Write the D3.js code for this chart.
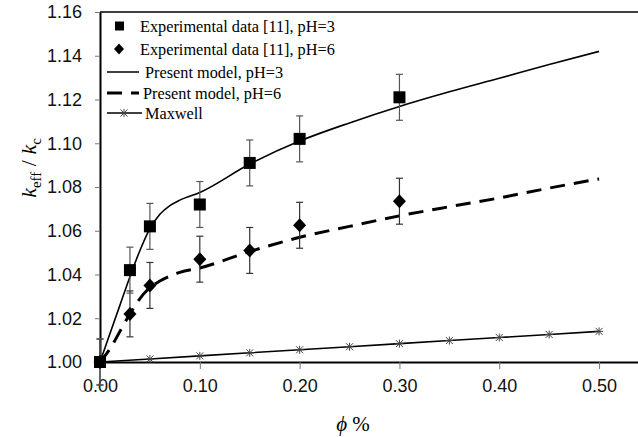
<!DOCTYPE html>
<html>
<head>
  <meta charset="utf-8">
  <style>
body { margin: 0; background: #fff; }
svg { display: block; }
.tick text { font: 18px "Liberation Sans", Arial, sans-serif; fill: #111; }
.legend text { font: 16.3px "Liberation Serif", "Times New Roman", serif; fill: #000; }
  </style>
</head>
<body>
  <svg id="chart" width="638" height="437"></svg>
  <script src="https://cdn.jsdelivr.net/npm/d3@7"></script>
  <script>
// Experimental data [11]
var expX = [0, 0.03, 0.05, 0.10, 0.15, 0.20, 0.30];
var exp3 = [1.000, 1.042, 1.062, 1.072, 1.091, 1.102, 1.121];
var exp6 = [1.000, 1.022, 1.035, 1.047, 1.051, 1.0625, 1.0735];
var errBar = 0.0105;

// Present model curves
var modelX = [0, 0.01, 0.02, 0.03, 0.04, 0.05, 0.06, 0.07, 0.08, 0.10, 0.15, 0.20, 0.25, 0.30, 0.35, 0.40, 0.45, 0.50];
var model3 = [1.000, 1.013, 1.026, 1.039, 1.051, 1.061, 1.0675, 1.0715, 1.074, 1.0775, 1.0905, 1.101, 1.1093, 1.1168, 1.1235, 1.1297, 1.136, 1.142];
var model6 = [1.000, 1.006, 1.014, 1.022, 1.029, 1.034, 1.037, 1.0393, 1.041, 1.043, 1.0505, 1.057, 1.062, 1.0668, 1.071, 1.075, 1.0795, 1.0837];

// Maxwell
var maxX = [0, 0.05, 0.10, 0.15, 0.20, 0.25, 0.30, 0.35, 0.40, 0.45, 0.50];
var maxY = [1.000, 1.0014, 1.0028, 1.0042, 1.0056, 1.0070, 1.0084, 1.0098, 1.0112, 1.0126, 1.0140];

var xTicks = [0, 0.10, 0.20, 0.30, 0.40, 0.50];
var yTicks = [1.00, 1.02, 1.04, 1.06, 1.08, 1.10, 1.12, 1.14, 1.16];

var svg = d3.select("#chart"),
    margin = {left: 100, right: 0, top: 12, bottom: 75},
    width = +svg.attr("width") - margin.left - margin.right,
    height = +svg.attr("height") - margin.top - margin.bottom;

var x = d3.scaleLinear().domain([0, 0.539]).range([0, width]);
var y = d3.scaleLinear().domain([1.00, 1.16]).range([height, 0]);

var g = svg.append("g").attr("transform", "translate(" + margin.left + "," + margin.top + ")");

// Axes
var xAxis = g.append("g")
    .attr("transform", "translate(0," + height + ")")
    .call(d3.axisBottom(x).tickValues(xTicks).tickFormat(d3.format(".2f")).tickSize(7).tickPadding(10).tickSizeOuter(0));
xAxis.select(".domain").attr("stroke", "#000").attr("stroke-width", 2);
xAxis.selectAll(".tick line").attr("stroke", "#777");

var yAxis = g.append("g")
    .call(d3.axisLeft(y).tickValues(yTicks).tickFormat(d3.format(".2f")).tickSize(5).tickPadding(13).tickSizeOuter(0));
yAxis.select(".domain").attr("stroke", "#000").attr("stroke-width", 2);
yAxis.selectAll(".tick line").attr("stroke", "#777");

// top border
g.append("line")
    .attr("x1", 0).attr("x2", width)
    .attr("y1", 0).attr("y2", 0)
    .attr("stroke", "#000").attr("stroke-width", 1.5);

// Axis titles
svg.append("text")
    .attr("x", 353).attr("y", 431)
    .attr("text-anchor", "middle")
    .style("font", "21px 'Liberation Serif', serif")
    .html("<tspan font-style='italic'>&#x03D5;</tspan> %");

var yt = svg.append("text")
    .attr("transform", "translate(36,168) rotate(-90)")
    .attr("text-anchor", "middle")
    .style("font", "22px 'Liberation Serif', serif");
yt.append("tspan").attr("font-style", "italic").text("k");
yt.append("tspan").attr("font-size", "15px").attr("dy", 5).text("eff");
yt.append("tspan").attr("dy", -5).text(" / ");
yt.append("tspan").attr("font-style", "italic").text("k");
yt.append("tspan").attr("font-size", "15px").attr("dy", 5).text("c");

// Model lines
var line = d3.line()
    .x(function(d) { return x(d[0]); })
    .y(function(d) { return y(d[1]); })
    .curve(d3.curveMonotoneX);

g.append("path")
    .datum(d3.zip(modelX, model3))
    .attr("d", line)
    .attr("fill", "none").attr("stroke", "#000").attr("stroke-width", 1.6);

g.append("path")
    .datum(d3.zip(modelX, model6))
    .attr("d", line)
    .attr("fill", "none").attr("stroke", "#000").attr("stroke-width", 3)
    .attr("stroke-dasharray", "15,9");

// Maxwell
var maxData = d3.zip(maxX, maxY);
g.append("path")
    .datum(maxData)
    .attr("d", d3.line().x(function(d) { return x(d[0]); }).y(function(d) { return y(d[1]); }))
    .attr("fill", "none").attr("stroke", "#000").attr("stroke-width", 1.6);

var star = "M-3.5,-3.5L3.5,3.5M-3.5,3.5L3.5,-3.5M0,-4L0,4M-4,0L4,0";
g.selectAll(".star")
    .data(maxData.slice(1))
    .enter().append("path")
      .attr("class", "star")
      .attr("transform", function(d) { return "translate(" + x(d[0]) + "," + y(d[1]) + ")"; })
      .attr("d", star)
      .attr("stroke", "#444").attr("stroke-width", 1).attr("fill", "none");

// Error bars
function errorBars(vals, color) {
  var data = d3.zip(expX, vals);
  var eb = g.append("g").selectAll("g")
    .data(data)
    .enter().append("g")
      .attr("stroke", color).attr("stroke-width", 1.2);
  eb.append("line")
    .attr("x1", function(d) { return x(d[0]); })
    .attr("x2", function(d) { return x(d[0]); })
    .attr("y1", function(d) { return y(d[1] - errBar); })
    .attr("y2", function(d) { return y(d[1] + errBar); });
  [-1, 1].forEach(function(s) {
    eb.append("line")
      .attr("x1", function(d) { return x(d[0]) - 3.5; })
      .attr("x2", function(d) { return x(d[0]) + 3.5; })
      .attr("y1", function(d) { return y(d[1] + s * errBar); })
      .attr("y2", function(d) { return y(d[1] + s * errBar); });
  });
}
errorBars(exp6, "#333");
errorBars(exp3, "#555");

// Markers
g.selectAll(".diamond")
  .data(d3.zip(expX, exp6))
  .enter().append("path")
    .attr("class", "diamond")
    .attr("transform", function(d) { return "translate(" + x(d[0]) + "," + y(d[1]) + ")"; })
    .attr("d", "M0,-7L6.5,0L0,7L-6.5,0Z")
    .attr("fill", "#000");

g.selectAll(".square")
  .data(d3.zip(expX, exp3))
  .enter().append("rect")
    .attr("class", "square")
    .attr("x", function(d) { return x(d[0]) - 6; })
    .attr("y", function(d) { return y(d[1]) - 6; })
    .attr("width", 12).attr("height", 12)
    .attr("fill", "#000");

// Legend
var legend = svg.append("g").attr("class", "legend");
var items = [
  {label: "Experimental data [11], pH=3", type: "square", y: 26, tx: 140},
  {label: "Experimental data [11], pH=6", type: "diamond", y: 49, tx: 140},
  {label: "Present model, pH=3", type: "solid", y: 72, tx: 145},
  {label: "Present model, pH=6", type: "dash", y: 93, tx: 143},
  {label: "Maxwell", type: "max", y: 113, tx: 145}
];
items.forEach(function(it) {
  var row = legend.append("g");
  if (it.type == "square") {
    row.append("rect").attr("x", 115).attr("y", it.y - 4.5).attr("width", 9).attr("height", 9).attr("fill", "#000");
  } else if (it.type == "diamond") {
    row.append("path").attr("transform", "translate(119," + it.y + ")").attr("d", "M0,-5.5L5,0L0,5.5L-5,0Z").attr("fill", "#000");
  } else if (it.type == "solid") {
    row.append("line").attr("x1", 107).attr("x2", 139).attr("y1", it.y).attr("y2", it.y).attr("stroke", "#000").attr("stroke-width", 1.5);
  } else if (it.type == "dash") {
    row.append("line").attr("x1", 107).attr("x2", 139).attr("y1", it.y).attr("y2", it.y)
      .attr("stroke", "#000").attr("stroke-width", 3).attr("stroke-dasharray", "15,9");
  } else {
    row.append("line").attr("x1", 107).attr("x2", 142).attr("y1", it.y).attr("y2", it.y).attr("stroke", "#000").attr("stroke-width", 1.5);
    row.append("path").attr("transform", "translate(124," + it.y + ")").attr("d", star).attr("stroke", "#444").attr("stroke-width", 1).attr("fill", "none");
  }
  row.append("text").attr("x", it.tx).attr("y", it.y).attr("dy", "0.35em").text(it.label);
});
  </script>
</body>
</html>
